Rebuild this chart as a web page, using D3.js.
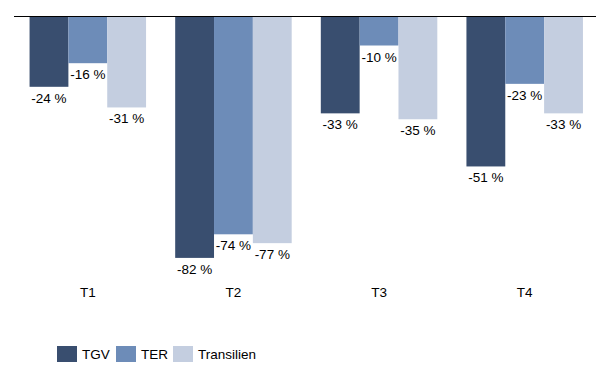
<!DOCTYPE html>
<html><head><meta charset="utf-8">
<script src="https://cdn.jsdelivr.net/npm/d3@7"></script>
<style>body{margin:0;background:#fff}svg{display:block}text{font-family:"Liberation Sans",Arial,sans-serif}</style>
</head><body><svg id="c" width="615" height="376"></svg>
<script>
const categories = ["T1","T2","T3","T4"];
const seriesNames = ["TGV","TER","Transilien"];
const tgv = [-24,-82,-33,-51];
const ter = [-16,-74,-10,-23];
const transilien = [-31,-77,-35,-33];
const colors = ["#394e6f","#6d8cb8","#c4cee0"];
const seriesValues = [tgv, ter, transilien];

const svg = d3.select("#c");
const x0 = d3.scaleBand().domain(categories).range([15,597.5]).paddingInner(0.2).paddingOuter(0.1);
const x1 = d3.scaleBand().domain(seriesNames).range([0,x0.bandwidth()]);
const y = d3.scaleLinear().domain([0,-90]).range([16,281.5]);

categories.forEach((c,i)=>{
  const g = svg.append("g").attr("transform",`translate(${x0(c)},0)`);
  seriesNames.forEach((s,j)=>{
    const v = seriesValues[j][i];
    g.append("rect").attr("x",x1(s)).attr("y",y(0)).attr("width",x1.bandwidth())
      .attr("height",y(v)-y(0)).attr("fill",colors[j]);
    g.append("text").attr("x",x1(s)+x1.bandwidth()/2).attr("y",y(v)+16)
      .attr("text-anchor","middle").attr("font-size",13.5).attr("fill","#000")
      .text(v+" %");
  });
  svg.append("text").attr("x",x0(c)+x0.bandwidth()/2).attr("y",297)
    .attr("text-anchor","middle").attr("font-size",13.5).attr("fill","#000").text(c);
});

svg.append("line").attr("x1",14).attr("x2",596).attr("y1",y(0)+0.5).attr("y2",y(0)+0.5)
  .attr("stroke","#000").attr("stroke-width",1).attr("shape-rendering","crispEdges");

const legX = [57,116,173];
seriesNames.forEach((s,j)=>{
  svg.append("rect").attr("x",legX[j]).attr("y",346).attr("width",20).attr("height",16).attr("fill",colors[j]);
  svg.append("text").attr("x",legX[j]+25).attr("y",359).attr("font-size",13.5).attr("fill","#000").text(s);
});
</script></body></html>
